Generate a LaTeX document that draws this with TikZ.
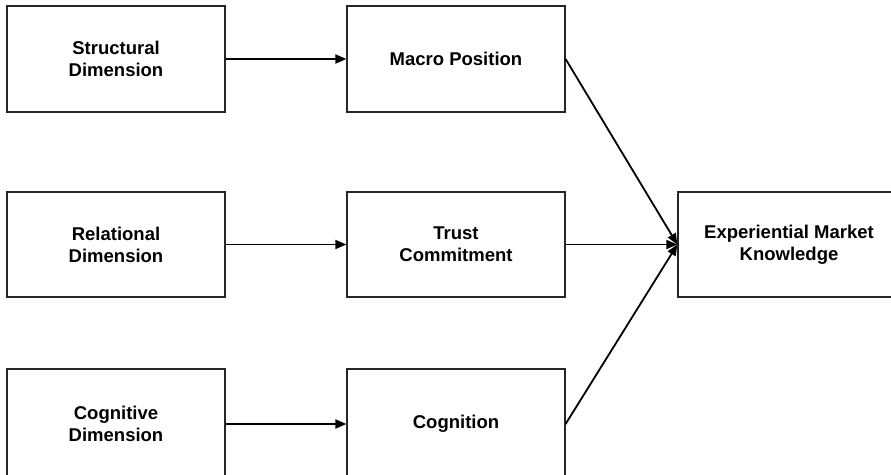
\documentclass[tikz,border=0pt]{standalone}
\usepackage{fontspec}
\setmainfont{Liberation Sans}
\usetikzlibrary{arrows.meta}
\begin{document}
\begin{tikzpicture}[x=1pt,y=-1pt,
  box/.style={draw=black!85, line width=1.2pt, fill=white, rectangle,
    inner sep=0pt, align=center,
    font=\fontsize{18.5}{22}\selectfont\bfseries},
  link/.style={draw=black, line width=1.8pt,
    -{Triangle[length=11pt,width=9pt]}}]
  \useasboundingbox (0,0) rectangle (891,474);
  % left column
  \node[box, minimum width=218pt, minimum height=106pt] (sd) at (116,59) {Structural\\Dimension};
  \node[box, minimum width=218pt, minimum height=105pt] (rd) at (116,244.5) {Relational\\Dimension};
  \node[box, minimum width=218pt, minimum height=110pt] (cd) at (116,424) {Cognitive\\Dimension};
  % middle column
  \node[box, minimum width=218pt, minimum height=106pt] (mp) at (456,59) {Macro Position};
  \node[box, minimum width=218pt, minimum height=105pt] (tc) at (456,244.5) {Trust\\Commitment};
  \node[box, minimum width=218pt, minimum height=110pt] (cg) at (456,424) {Cognition};
  % outcome
  \node[box, minimum width=222pt, minimum height=105pt] (em) at (789,244.5) {Experiential Market\\Knowledge};
  % connectors
  \draw[link] (sd.east) -- (mp.west);
  \draw[link] (rd.east) -- (tc.west);
  \draw[link] (cd.east) -- (cg.west);
  \draw[link] (mp.east) -- (em.west);
  \draw[link] (tc.east) -- (em.west);
  \draw[link] (cg.east) -- (em.west);
\end{tikzpicture}
\end{document}
